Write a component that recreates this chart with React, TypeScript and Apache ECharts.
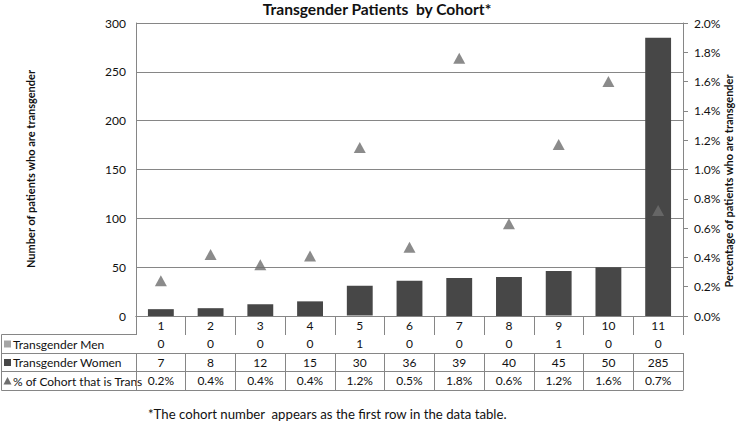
import React, { useEffect, useRef } from "react";
import * as echarts from "echarts";

const cohorts = ["1", "2", "3", "4", "5", "6", "7", "8", "9", "10", "11"];
const transMen = [0, 0, 0, 0, 1, 0, 0, 0, 1, 0, 0];
const transWomen = [7, 8, 12, 15, 30, 36, 39, 40, 45, 50, 285];
const pctTrans = [0.24, 0.42, 0.35, 0.41, 1.15, 0.47, 1.76, 0.63, 1.17, 1.6, 0.72];
const pctTable = ["0.2%", "0.4%", "0.4%", "0.4%", "1.2%", "0.5%", "1.8%", "0.6%", "1.2%", "1.6%", "0.7%"];
const seriesNames = ["Transgender Men", "Transgender Women", "% of Cohort that is Trans"];
const titleText = "Transgender Patients  by Cohort*";
const leftTitle = "Number of patients who are transgender";
const rightTitle = "Percentage of patients who are transgender";
const footnote = "*The cohort number  appears as the first row in the data table.";

const FONT = "Lato, 'Open Sans', sans-serif";
const GRID_L = 136;
const GRID_R = 66;
const GRID_T = 23;
const GRID_B = 108;
const W = 749;
const H = 424;
const BASE_Y = H - GRID_B;
const rowOffsets = [0, 18, 37, 55, 74];
const LINE = "#868686";
const BAR_DARK = "#474747";
const MEN_COLOR = "#a6a6a6";
const TRI_COLOR = "#6e6e6e";

export default function App() {
  const ref = useRef<HTMLDivElement>(null);
  useEffect(() => {
    if (!ref.current) return;
    const chart = echarts.init(ref.current, null, { renderer: "svg" });
    const rows = [cohorts, transMen.map(String), transWomen.map(String), pctTable];
    const xAxes: any[] = rows.map((vals, i) => ({
      type: "category",
      data: cohorts,
      gridIndex: 0,
      position: "bottom",
      offset: rowOffsets[i],
      axisLine: { show: true, lineStyle: { color: LINE, width: 1 } },
      axisTick: {
        show: true,
        interval: 0,
        alignWithLabel: false,
        length: rowOffsets[i + 1] - rowOffsets[i],
        lineStyle: { color: LINE, width: 1 },
      },
      axisLabel: {
        show: true,
        interval: 0,
        margin: 3,
        fontFamily: FONT,
        fontSize: 12,
        color: "#111",
        formatter: (_v: string, idx: number) => vals[idx],
      },
      splitLine: { show: false },
    }));
    xAxes.push({
      type: "category",
      data: cohorts,
      gridIndex: 0,
      position: "bottom",
      offset: rowOffsets[4],
      axisLine: { show: true, lineStyle: { color: LINE, width: 1 } },
      axisTick: { show: false },
      axisLabel: { show: false },
    });

    const graphics: any[] = [];
    for (let i = 1; i <= 4; i++) {
      graphics.push({
        type: "line",
        shape: { x1: 1.5, y1: BASE_Y + rowOffsets[i] + 0.5, x2: GRID_L, y2: BASE_Y + rowOffsets[i] + 0.5 },
        style: { stroke: LINE, lineWidth: 1 },
      });
    }
    graphics.push({
      type: "line",
      shape: { x1: 1.5, y1: BASE_Y + rowOffsets[1] + 0.5, x2: 1.5, y2: BASE_Y + rowOffsets[4] + 0.5 },
      style: { stroke: LINE, lineWidth: 1 },
    });
    seriesNames.forEach((name, i) => {
      const cy = BASE_Y + (rowOffsets[i + 1] + rowOffsets[i + 2]) / 2 + 0.5;
      if (i < 2) {
        graphics.push({
          type: "rect",
          shape: { x: 4, y: cy - 3.5, width: 7, height: 7 },
          style: { fill: i === 0 ? MEN_COLOR : BAR_DARK },
        });
      } else {
        graphics.push({
          type: "polygon",
          shape: { points: [[7.5, cy - 4], [11.5, cy + 3.5], [3.5, cy + 3.5]] },
          style: { fill: TRI_COLOR },
        });
      }
      graphics.push({
        type: "text",
        x: 13,
        y: cy,
        style: { text: name, fontFamily: FONT, fontSize: 12, fill: "#111", verticalAlign: "middle", align: "left" },
      });
    });
    graphics.push({
      type: "text",
      x: 377,
      y: 9,
      style: { text: titleText, fontFamily: FONT, fontSize: 15.6, fontWeight: "bold", fill: "#111", align: "center", verticalAlign: "middle" },
    });
    graphics.push({
      type: "text",
      x: 30,
      y: 169,
      rotation: Math.PI / 2,
      style: { text: leftTitle, fontFamily: FONT, fontSize: 11, fontWeight: "bold", fill: "#111", align: "center", verticalAlign: "middle" },
    });
    graphics.push({
      type: "text",
      x: 728,
      y: 181,
      rotation: Math.PI / 2,
      style: { text: rightTitle, fontFamily: FONT, fontSize: 11, fontWeight: "bold", fill: "#111", align: "center", verticalAlign: "middle" },
    });
    graphics.push({
      type: "text",
      x: 148,
      y: 414,
      style: { text: footnote, fontFamily: FONT, fontSize: 13.2, fill: "#111", align: "left", verticalAlign: "middle" },
    });

    chart.setOption({
      animation: false,
      backgroundColor: "#fff",
      grid: { left: GRID_L, right: GRID_R, top: GRID_T, bottom: GRID_B, containLabel: false },
      xAxis: xAxes,
      yAxis: [
        {
          type: "value",
          min: 0,
          max: 300,
          interval: 50,
          axisLine: { show: true, lineStyle: { color: LINE } },
          axisTick: { show: false },
          axisLabel: { fontFamily: FONT, fontSize: 12, color: "#111", margin: 10 },
          splitLine: { show: true, lineStyle: { color: LINE, width: 1 } },
        },
        {
          type: "value",
          min: 0,
          max: 2,
          interval: 0.2,
          position: "right",
          axisLine: { show: true, lineStyle: { color: LINE } },
          axisTick: { show: true, length: 5, inside: false, lineStyle: { color: LINE } },
          axisLabel: {
            fontFamily: FONT,
            fontSize: 12,
            color: "#111",
            margin: 11,
            formatter: (v: number) => v.toFixed(1) + "%",
          },
          splitLine: { show: false },
        },
      ],
      series: [
        {
          name: seriesNames[0],
          type: "bar",
          stack: "t",
          xAxisIndex: 0,
          yAxisIndex: 0,
          barWidth: "52%",
          data: transMen,
          itemStyle: { color: MEN_COLOR },
        },
        {
          name: seriesNames[1],
          type: "bar",
          stack: "t",
          xAxisIndex: 0,
          yAxisIndex: 0,
          barWidth: "52%",
          data: transWomen,
          itemStyle: { color: BAR_DARK },
        },
        {
          name: seriesNames[2],
          type: "scatter",
          xAxisIndex: 0,
          yAxisIndex: 1,
          symbol: "triangle",
          symbolSize: [12, 11],
          data: pctTrans,
          itemStyle: { color: TRI_COLOR },
          z: 5,
        },
      ],
      graphic: graphics,
    });
    return () => chart.dispose();
  }, []);
  return <div ref={ref} style={{ position: "absolute", left: 0, top: 0, width: W, height: H }} />;
}
